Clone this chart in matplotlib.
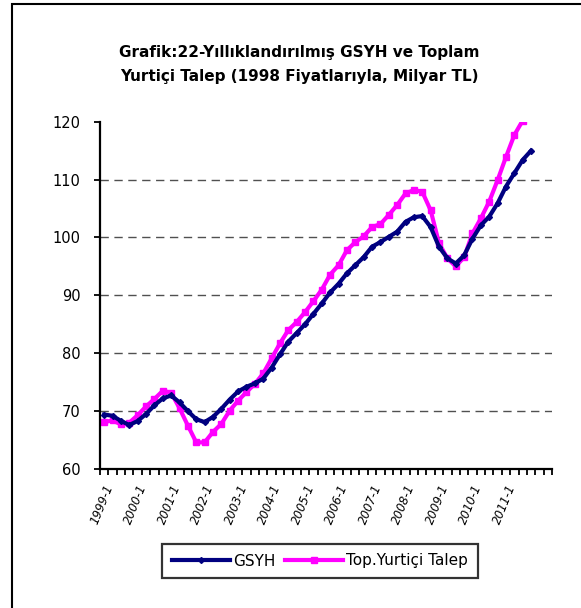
import numpy as np
import matplotlib
matplotlib.use("Agg")
import matplotlib.pyplot as plt
from matplotlib.patches import Rectangle

# quarterly data, 1999-1 .. 2011-4 (axis has room for 54 quarters)
gsyh = [69.4, 69.2, 68.3, 67.6, 68.3, 69.5, 71.0, 72.2, 72.7, 71.5,
        70.0, 68.6, 68.1, 69.0, 70.4, 72.0, 73.4, 74.2, 74.8, 75.6,
        77.5, 79.8, 82.0, 83.5, 85.0, 86.8, 88.6, 90.5, 92.0, 93.8,
        95.2, 96.6, 98.4, 99.2, 100.1, 101.0, 102.7, 103.5, 103.7, 101.8,
        98.4, 96.4, 95.5, 96.9, 99.8, 102.1, 103.6, 105.9, 108.8, 111.1,
        113.4, 115.0]
talep = [68.1, 68.4, 67.7, 68.0, 69.3, 70.8, 72.1, 73.5, 73.2, 70.5,
         67.5, 64.6, 64.6, 66.4, 67.8, 70.1, 71.8, 73.3, 74.7, 76.5,
         79.1, 81.7, 84.0, 85.4, 87.1, 89.0, 91.0, 93.6, 95.2, 97.8,
         99.2, 100.2, 101.8, 102.3, 103.9, 105.6, 107.6, 108.2, 107.9, 104.7,
         99.0, 96.4, 95.0, 96.6, 100.7, 103.3, 106.2, 109.9, 113.9, 117.7,
         120.2, 121.0]
years = list(range(1999, 2012))
n_cat = 54

title = "Grafik:22-Yıllıklandırılmış GSYH ve Toplam\nYurtiçi Talep (1998 Fiyatlarıyla, Milyar TL)"

plt.rcParams["font.family"] = ["DejaVu Sans"]

fig = plt.figure(figsize=(5.81, 6.08), dpi=100)
ax = fig.add_axes([100/581, 1-469/608, 452/581, (469-121.7)/608])

x = np.arange(len(gsyh)) + 0.5
ax.plot(x, gsyh, color="#000080", lw=3.0, marker="D", ms=3, label="GSYH", zorder=3)
ax.plot(x, talep, color="#FF00FF", lw=3.0, marker="s", ms=4, label="Top.Yurtiçi Talep", zorder=2)

ax.set_xlim(0, n_cat)
ax.set_ylim(60, 120)
ax.set_yticks(range(60, 121, 10))
for v in range(70, 120, 10):
    ax.axhline(v, color="#505050", lw=1.0, ls=(0, (6, 4)), zorder=1)

ax.set_xticks(np.arange(0, n_cat + 1), minor=True)
ax.set_xticks([4 * i + 0.5 for i in range(len(years))])
ax.set_xticklabels([f"{y}-1" for y in years], rotation=68, ha="right",
                   rotation_mode="anchor", fontsize=8.5, fontstyle="italic")
ax.tick_params(axis="x", which="major", length=0, pad=10)
ax.tick_params(axis="x", which="minor", length=4, width=1.3, direction="out")
ax.tick_params(axis="y", length=4, width=1.3, labelsize=10.5, pad=10)

for s in ["top", "right"]:
    ax.spines[s].set_visible(False)
ax.spines["left"].set_linewidth(1.6)
ax.spines["bottom"].set_linewidth(1.6)

fig.text(299/581, 1-65/608, title, ha="center", va="center", fontsize=11,
         fontweight="bold", linespacing=1.75)

leg = fig.legend(loc="center", bbox_to_anchor=(320/581, 1-561/608), ncol=2,
                 frameon=True, fancybox=False, edgecolor="black", fontsize=11,
                 handlelength=3.8, handletextpad=0.2, columnspacing=0.6,
                 borderpad=0.65)
leg.get_frame().set_linewidth(1.6)

# outer chart frame
fig.patches.append(Rectangle((12/581, -0.05), 1.1, 1-4/608 + 0.05,
                             transform=fig.transFigure, fill=False,
                             edgecolor="black", lw=1.5))

fig.savefig("out.png", dpi=100)
